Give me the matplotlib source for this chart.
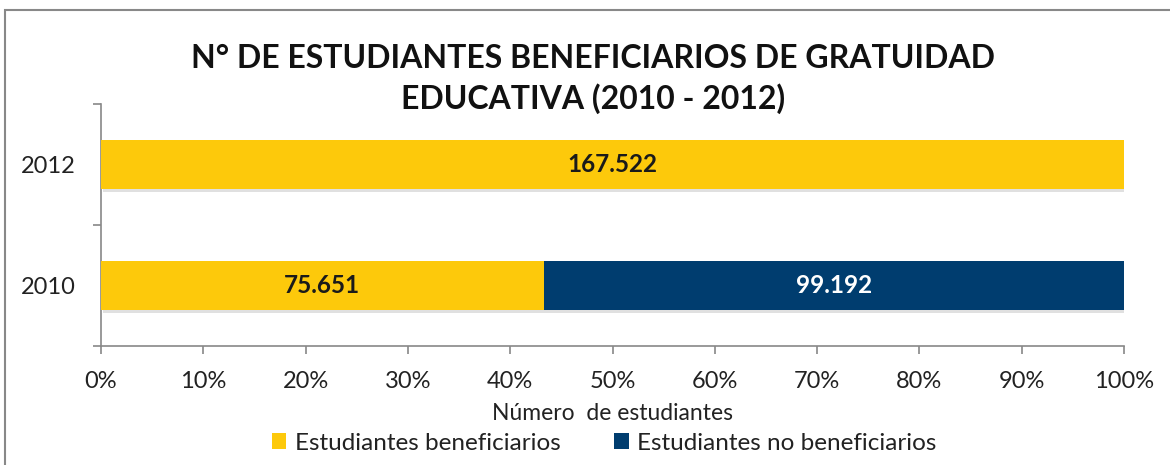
import matplotlib
matplotlib.use("Agg")
import matplotlib.pyplot as plt
import matplotlib.patheffects as pe
from matplotlib.patches import Rectangle, Patch
import numpy as np

years = ["2010", "2012"]
beneficiarios = [75651, 167522]
no_beneficiarios = [99192, 0]
labels_ben = ["75.651", "167.522"]
labels_no = ["99.192", ""]
series_names = ["Estudiantes beneficiarios", "Estudiantes no beneficiarios"]
xticks = [0, 10, 20, 30, 40, 50, 60, 70, 80, 90, 100]

YELLOW = "#FDC90B"
NAVY = "#003D6F"
FONT = ["Lato", "DejaVu Sans"]
plt.rcParams["font.family"] = FONT

fig = plt.figure(figsize=(11.7, 4.65), dpi=100)
W, H = 1170, 465
ax = fig.add_axes([101 / W, 1 - 346 / H, (1124 - 101) / W, (346 - 104) / H])

ben = np.array(beneficiarios, float)
nob = np.array(no_beneficiarios, float)
tot = ben + nob
pb = ben / tot * 100
pn = nob / tot * 100
y = np.arange(len(years))
h = 0.41
shadow = [pe.SimplePatchShadow(offset=(1.5, -2.0), shadow_rgbFace="#999999", alpha=0.3), pe.Normal()]
ax.barh(y, pb, height=h, color=YELLOW, zorder=3, path_effects=shadow)
ax.barh(y, pn, left=pb, height=h, color=NAVY, zorder=3, path_effects=shadow)

for i in range(len(years)):
    ax.text(pb[i] / 2, y[i], labels_ben[i], ha="center", va="center",
            fontsize=17.5, fontweight="bold", color="#1a1a1a", zorder=5)
    if pn[i] > 0:
        ax.text(pb[i] + pn[i] / 2, y[i], labels_no[i], ha="center", va="center",
                fontsize=17.5, fontweight="bold", color="white", zorder=5)

ax.set_xlim(0, 100)
ax.set_ylim(-0.5, 1.5)
ax.set_xticks(xticks)
ax.set_xticklabels([f"{v}%" for v in xticks], fontsize=17, color="#222222")
ax.set_yticks(y)
ax.set_yticklabels(years, fontsize=17, color="#222222")
ax.tick_params(axis="y", length=0, pad=18)
ax.set_yticks([-0.5, 0.5, 1.5], minor=True)
ax.tick_params(axis="y", which="minor", length=6, color="#888888", width=1.2)
ax.tick_params(axis="x", length=6, color="#888888", width=1.2, pad=12)
for s in ["top", "right"]:
    ax.spines[s].set_visible(False)
for s in ["left", "bottom"]:
    ax.spines[s].set_color("#888888")
    ax.spines[s].set_linewidth(1.2)

fig.text(612 / W, 1 - 413 / H, "Número  de estudiantes", ha="center", va="center",
         fontsize=16.5, color="#222222")

fig.text(593 / W, 1 - 58 / H, "N° DE ESTUDIANTES BENEFICIARIOS DE GRATUIDAD", ha="center", va="center",
         fontsize=23, fontweight="bold", color="#111111")
fig.text(593 / W, 1 - 99 / H, "EDUCATIVA (2010 - 2012)", ha="center", va="center",
         fontsize=23, fontweight="bold", color="#111111")

handles = [Patch(facecolor=YELLOW), Patch(facecolor=NAVY)]
fig.legend(handles, series_names, loc="center", bbox_to_anchor=(604 / W, 1 - 443 / H), ncol=2,
           frameon=False, fontsize=17.5, handlelength=0.6, handleheight=0.6, handletextpad=0.35,
           columnspacing=2.2, labelcolor="#222222", borderpad=0, borderaxespad=0)

fig.patches.append(Rectangle((5 / W, -0.1), 1.2, 1 - 10 / H + 0.1, transform=fig.transFigure,
                             fill=False, edgecolor="#888888", linewidth=1.5, zorder=0))

fig.savefig("out.png", dpi=100)
